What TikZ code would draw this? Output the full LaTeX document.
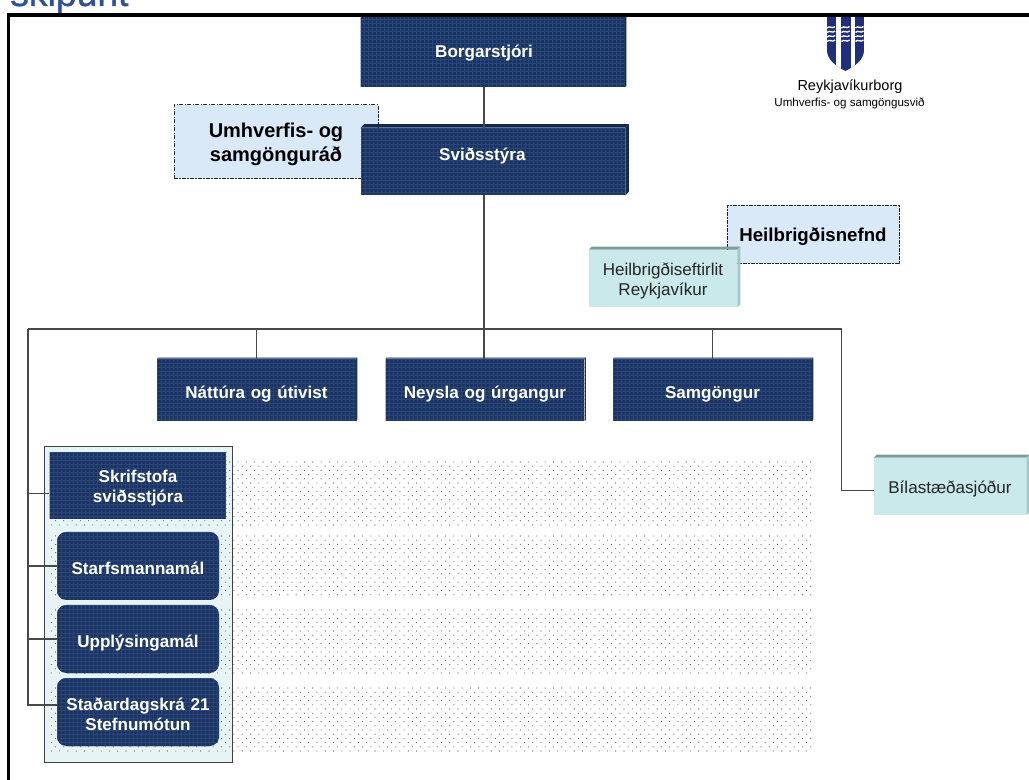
\documentclass[tikz,border=0pt]{standalone}
\usepackage{fontspec}
\setmainfont{Liberation Sans}
\newfontfamily\titlefont[FakeBold=0.9]{Liberation Sans}
\usepackage{xcolor}
\usetikzlibrary{calc, positioning}

\definecolor{navybox}{HTML}{1B3464}
\definecolor{navygrid}{HTML}{294679}
\definecolor{navytop}{HTML}{12284E}
\definecolor{notefill}{HTML}{D9E9F7}
\definecolor{tealfill}{HTML}{C9E9EA}
\definecolor{tealtop}{HTML}{7F9C9C}
\definecolor{tealside}{HTML}{A3C8CA}
\definecolor{panelfill}{HTML}{E6F4F6}
\definecolor{titleblue}{HTML}{2F4F9F}
\definecolor{shieldblue}{HTML}{1F2F80}
\definecolor{linegray}{HTML}{484848}

% extruded edge on top and right of a box: name, top colour, side colour, depth
\newcommand{\bevel}[4]{%
  \fill[#2] (#1.north west) -- ++(#4,-#4) -- ($(#1.north east)+(#4,-#4)$) -- (#1.north east) -- cycle;
  \fill[#3] (#1.north east) -- ++(#4,-#4) -- ($(#1.south east)+(#4,-#4)$) -- (#1.south east) -- cycle;
}
% staggered band of dots: top row, bottom row
\newcommand{\dotband}[2]{%
  \pgfmathsetmacro{\rowb}{#1+4.2}
  \fill[black!70] foreach \ry [count=\ri] in {#1,\rowb,...,#2} {
      foreach \rx in {51.3,59.6,...,810} {
        ({\rx+mod(\ri,2)*4.15},\ry) circle[radius=0.55]
      }
  };
}
% text whose baseline sits a given amount from the centre of its box
\newcommand{\lift}[2]{\raisebox{#1}[0pt][0pt]{#2}}
% the same for two centred lines
\newcommand{\twolines}[3]{\raisebox{#1}[0pt][0pt]{\begin{tabular}{@{}c@{}}#2\\#3\end{tabular}}}

\begin{document}
\begin{tikzpicture}[
        x=0.75pt, y=-0.75pt,
        navyfill/.style={fill=navybox, text=white, font=\fontsize{12.8}{15}\selectfont\bfseries,
            inner sep=0pt, align=center,
            path picture={
              \foreach \gx in {0,4,...,280}
                \draw[navygrid, line width=0.3pt]
                  ($(path picture bounding box.north west)+(\gx,0)$) -- ++(0,90);
              \foreach \gy in {0,4,...,80}
                \draw[navygrid, line width=0.3pt]
                  ($(path picture bounding box.north west)+(0,\gy)$) -- ++(280,0);
            }},
        topbox/.style={navyfill, text width=198pt, minimum height=54pt},
        rowbox/.style={navyfill, text width=149pt, minimum height=46.5pt},
        officebox/.style={navyfill, text width=132.5pt, minimum height=50.25pt},
        unitbox/.style={navyfill, text width=121.5pt, minimum height=51pt, rounded corners=7pt},
        notebox/.style={draw=black!85, fill=notefill, dash pattern=on 3pt off 1pt on 1pt off 1pt,
            line width=0.75pt, font=\fontsize{15}{18}\selectfont\bfseries, align=center, inner sep=0pt},
        tealbox/.style={fill=tealfill, font=\fontsize{12.8}{15}\selectfont, text=black!85,
            align=center, inner sep=0pt, minimum height=42.75pt},
        conn/.style={draw=linegray, line width=0.8pt}
]
\useasboundingbox (0,0) rectangle (1029,780);

%--- title, cut by the page edge ------------------------------
\node[anchor=base west, inner sep=0pt, text=titleblue, font=\titlefont\fontsize{28}{30}\selectfont]
     (title) at (10,6) {skipurit};

%--- dotted bands and panel -----------------------------------
\node[draw=black!75, fill=panelfill, line width=0.65pt, minimum width=141pt, minimum height=237pt,
      inner sep=0pt] (panel) at (138,604) {};
\dotband{462}{526}
\dotband{536}{598}
\dotband{610}{673}
\dotband{688}{752}

%--- coordinates for the lines --------------------------------
\coordinate (trunk) at (484,329);
\coordinate (busl)  at (28,329);
\coordinate (busr)  at (841.5,329);

%--- note boxes (behind the others) ---------------------------
\node[notebox, minimum width=153pt, minimum height=55pt] (rad) at (276,141.5)
     {\twolines{-5.8pt}{Umhverfis- og}{samgönguráð}};
\node[notebox, minimum width=129pt, minimum height=43.5pt, font=\fontsize{14}{16}\selectfont\bfseries]
     (nefnd) at (813,235) {\lift{-5pt}{Heilbrigðisnefnd}};

%--- top of the tree ------------------------------------------
\node[topbox] (borg) at (492.5,51) {\hspace*{-12.7pt}\lift{-5pt}{Borgarstjóri}};
\node[topbox, minimum height=50.25pt] (styra) at (493,161.5) {\hspace*{-16pt}\lift{1.1pt}{Sviðsstýra}};

%--- teal boxes -----------------------------------------------
\node[tealbox, minimum width=111pt] (eftirlit) at (663,278.5)
     {\twolines{-5.1pt}{Heilbrigðiseftirlit}{Reykjavíkur}};
\node[tealbox, minimum width=114pt] (bila) at (950,486.5) {\lift{-5.6pt}{Bílastæðasjóður}};

%--- departments ----------------------------------------------
\node[rowbox] (natt)  at (256.5,390) {\lift{-6.2pt}{Náttúra og útivist}};
\node[rowbox] (neysla) at (485,390)  {\lift{-6.2pt}{Neysla og úrgangur}};
\node[rowbox] (samg)  at (712.5,390) {\lift{-6.2pt}{Samgöngur}};

%--- staff units ----------------------------------------------
\node[officebox] (skrif) at (138,485.5) {\twolines{-5.2pt}{Skrifstofa}{sviðsstjóra}};
\node[unitbox] (starf) at (138,566)   {\lift{-6pt}{Starfsmannamál}};
\node[unitbox] (uppl)  at (138,639)   {\lift{-6pt}{Upplýsingamál}};
\node[unitbox] (stad)  at (138,712)   {\twolines{-6.2pt}{Staðardagskrá 21}{Stefnumótun}};

%--- edges of the boxes ---------------------------------------
\bevel{styra}{navytop}{navytop}{3.5}
\bevel{borg}{navytop}{navytop}{1.5}
\bevel{natt}{navytop}{navybox}{1.2}
\bevel{neysla}{navytop}{navybox}{1.2}
\bevel{samg}{navytop}{navybox}{1.2}
\bevel{eftirlit}{tealtop}{tealside}{3}
\bevel{bila}{tealtop}{tealside}{3}

%--- lines ----------------------------------------------------
\draw[conn] (borg.south -| trunk) -- (styra.north -| trunk);
\draw[conn] (styra.south -| trunk) -- (neysla.north -| trunk);
\draw[conn] (busl) -- (busr);
\draw[conn] (natt.north) -- (natt.north |- busl);
\draw[conn] (samg.north) -- (samg.north |- busl);
\draw[conn] (busl) |- ($(skrif.west)+(0,8)$);
\draw[conn] (busl) |- (starf.west);
\draw[conn] (busl) |- (uppl.west);
\draw[conn] (busl) |- ($(stad.west)+(0,-7)$);
\draw[conn] (busr) |- ($(bila.west)+(0,4)$);
\draw[conn, dash pattern=on 3pt off 1.5pt] ($(eftirlit.west)+(0,4)$) -- ($(eftirlit.west)+(0,4)$ -| trunk);

%--- shield ---------------------------------------------------
\begin{scope}
  \clip (827,16) -- (864,16) -- (864,50) .. controls (864,60) and (855,66) .. (845.5,71)
        .. controls (836,66) and (827,60) .. (827,50) -- cycle;
  \fill[shieldblue] (827,16) rectangle (864,71);
  \fill[white] (836,16) rectangle (840.5,71);
  \fill[white] (850.5,16) rectangle (855,71);
  \foreach \cx in {831,845.5,859.5}
    \foreach \wy in {28,32.5,37,41.5}
      \draw[white, line width=1pt] ({\cx-4},\wy) .. controls ({\cx-1.5},{\wy-3}) and ({\cx+1.5},{\wy+1.5}) .. ({\cx+4},{\wy-1.5});
\end{scope}
\node[inner sep=0pt, font=\fontsize{10.9}{12}\selectfont] (city) at (850,87) {Reykjavíkurborg};
\node[inner sep=0pt, font=\fontsize{8.7}{10}\selectfont] (dept) at (849.5,103) {Umhverfis- og samgöngusvið};

%--- page frame -----------------------------------------------
\draw[line width=2.3pt] (1029,15) -- (8.5,15) -- (8.5,780);

\end{tikzpicture}
\end{document}
